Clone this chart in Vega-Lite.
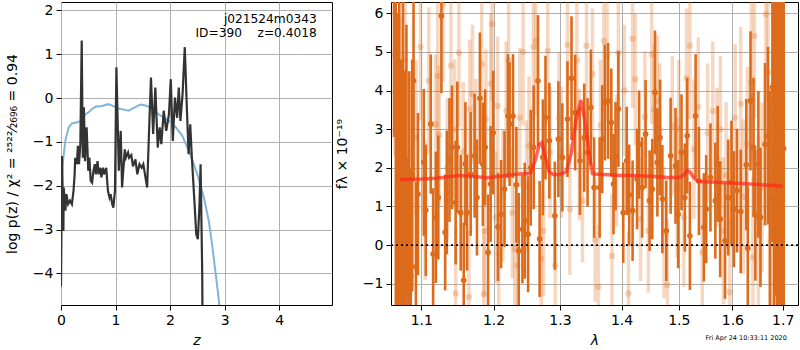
{
"$schema": "https://vega.github.io/schema/vega-lite/v6.json",
"background": "white",
"padding": {"left": 4, "top": 1, "right": 0, "bottom": 0},
"config": {
  "font": "DejaVu Sans",
  "view": {"stroke": "black", "strokeWidth": 1},
  "axis": {"labelFont": "DejaVu Sans", "titleFont": "DejaVu Sans", "labelFontSize": 14, "titleFontSize": 14, "titleFontWeight": "normal", "labelColor": "black", "titleColor": "black", "tickColor": "black", "tickSize": 5, "labelPadding": 3, "domain": false, "gridColor": "#b0b0b0", "gridWidth": 1, "gridOpacity": 1, "labelFlush": false, "labelOverlap": false}
},
"bounds": "flush",
"spacing": 59,
"datasets": {
  "pz": [
{"z":0.0,"v":-4.3},{"z":0.018,"v":-1.32},{"z":0.044,"v":-3.03},{"z":0.05,"v":-2.04},{"z":0.08,"v":-2.57},{"z":0.10,"v":-2.19},{"z":0.13,"v":-2.42},{"z":0.165,"v":-2.34},{"z":0.20,"v":-2.42},{"z":0.23,"v":-2.11},{"z":0.25,"v":-1.74},{"z":0.26,"v":-1.36},{"z":0.29,"v":-1.51},{"z":0.31,"v":-1.09},{"z":0.33,"v":-1.51},{"z":0.355,"v":-1.05},{"z":0.38,"v":1.31},{"z":0.40,"v":-1.36},{"z":0.42,"v":-0.21},{"z":0.44,"v":-1.44},{"z":0.47,"v":-0.67},{"z":0.50,"v":-1.66},{"z":0.52,"v":-1.36},{"z":0.545,"v":-1.89},{"z":0.57,"v":-1.93},{"z":0.595,"v":-1.66},{"z":0.62,"v":-1.51},{"z":0.64,"v":-1.74},{"z":0.67,"v":-1.44},{"z":0.69,"v":-1.74},{"z":0.72,"v":-1.59},{"z":0.74,"v":-1.81},{"z":0.77,"v":-1.59},{"z":0.79,"v":-1.74},{"z":0.83,"v":-1.59},{"z":0.86,"v":-2.11},{"z":0.89,"v":-2.27},{"z":0.91,"v":-2.19},{"z":0.94,"v":-2.42},{"z":0.96,"v":-2.5},{"z":0.99,"v":-2.11},{"z":1.016,"v":0.70},{"z":1.06,"v":-1.66},{"z":1.095,"v":-0.75},{"z":1.12,"v":-2.04},{"z":1.17,"v":-1.17},{"z":1.19,"v":-1.36},{"z":1.23,"v":-1.24},{"z":1.25,"v":-1.36},{"z":1.29,"v":-1.3},{"z":1.32,"v":-1.56},{"z":1.365,"v":-1.40},{"z":1.40,"v":-1.74},{"z":1.44,"v":-1.51},{"z":1.48,"v":-1.59},{"z":1.51,"v":-1.51},{"z":1.549,"v":-1.81},{"z":1.58,"v":-2.04},{"z":1.615,"v":-0.75},{"z":1.65,"v":0.47},{"z":1.69,"v":-0.82},{"z":1.73,"v":0.24},{"z":1.774,"v":-1.13},{"z":1.81,"v":-0.67},{"z":1.84,"v":-1.05},{"z":1.884,"v":-0.29},{"z":1.93,"v":-0.75},{"z":1.98,"v":-0.37},{"z":2.013,"v":0.43},{"z":2.05,"v":-0.98},{"z":2.09,"v":0.01},{"z":2.13,"v":-0.45},{"z":2.16,"v":0.24},{"z":2.19,"v":-0.52},{"z":2.23,"v":0.10},{"z":2.27,"v":1.16},{"z":2.31,"v":-0.29},{"z":2.34,"v":-1.28},{"z":2.37,"v":-0.6},{"z":2.40,"v":-1.36},{"z":2.45,"v":-2.42},{"z":2.48,"v":-3.1},{"z":2.51,"v":-3.22},{"z":2.54,"v":-2.42},{"z":2.56,"v":-1.51},{"z":2.59,"v":-4.0},{"z":2.60,"v":-6.0}
  ],
  "pzb": [
{"z":0.003,"v":-2.0},{"z":0.03,"v":-1.51},{"z":0.08,"v":-0.97},{"z":0.14,"v":-0.67},{"z":0.20,"v":-0.58},{"z":0.29,"v":-0.56},{"z":0.35,"v":-0.53},{"z":0.41,"v":-0.43},{"z":0.45,"v":-0.37},{"z":0.50,"v":-0.33},{"z":0.57,"v":-0.25},{"z":0.63,"v":-0.2},{"z":0.75,"v":-0.18},{"z":0.87,"v":-0.14},{"z":0.99,"v":-0.2},{"z":1.05,"v":-0.24},{"z":1.18,"v":-0.27},{"z":1.24,"v":-0.29},{"z":1.37,"v":-0.2},{"z":1.46,"v":-0.15},{"z":1.55,"v":-0.17},{"z":1.61,"v":-0.2},{"z":1.79,"v":-0.37},{"z":1.976,"v":-0.52},{"z":2.10,"v":-0.66},{"z":2.22,"v":-0.85},{"z":2.37,"v":-1.28},{"z":2.50,"v":-1.74},{"z":2.62,"v":-2.27},{"z":2.71,"v":-2.8},{"z":2.77,"v":-3.33},{"z":2.83,"v":-3.94},{"z":2.89,"v":-4.55},{"z":2.95,"v":-5.3}
  ],
  "dark": [
{"l":1.0645,"f":6.9,"e":4.1},{"l":1.0668,"f":3.0,"e":5.5},{"l":1.069,"f":1.5,"e":4.5},{"l":1.0712,"f":2.5,"e":5.0},{"l":1.0735,"f":0.3,"e":4.5},{"l":1.076,"f":2.0,"e":4.8},{"l":1.0787,"f":0.72,"e":3.8},{"l":1.0805,"f":2.2,"e":3.5},{"l":1.0818,"f":-0.84,"e":3.0},{"l":1.084,"f":1.0,"e":3.5},{"l":1.0862,"f":-0.79,"e":2.8},{"l":1.088,"f":1.8,"e":3.0},{"l":1.0898,"f":4.25,"e":2.6},
{"l":1.0929,"f":-0.56,"e":2.2},{"l":1.0956,"f":1.32,"e":2.1},{"l":1.1033,"f":2.14,"e":1.9},{"l":1.106,"f":0.9,"e":1.7},{"l":1.1126,"f":3.13,"e":1.8},{"l":1.1158,"f":-0.23,"e":1.7},{"l":1.1195,"f":0.72,"e":1.7},{"l":1.1228,"f":1.23,"e":1.6},{"l":1.127,"f":5.93,"e":2.0},{"l":1.1321,"f":0.33,"e":1.5},{"l":1.1344,"f":1.36,"e":1.6},{"l":1.138,"f":2.2,"e":1.6},{"l":1.1414,"f":2.53,"e":1.6},{"l":1.1465,"f":1.1,"e":1.6},{"l":1.1488,"f":2.53,"e":1.7},{"l":1.1535,"f":0.84,"e":1.5},{"l":1.1577,"f":-0.91,"e":1.5},{"l":1.16,"f":2.1,"e":1.6},{"l":1.1623,"f":0.84,"e":1.5},{"l":1.1674,"f":1.84,"e":1.6},{"l":1.173,"f":2.31,"e":1.6},{"l":1.1763,"f":1.23,"e":1.5},{"l":1.1805,"f":3.8,"e":1.7},{"l":1.1847,"f":2.09,"e":1.6},{"l":1.1879,"f":2.53,"e":1.5},{"l":1.1921,"f":-0.19,"e":1.5},{"l":1.1958,"f":1.58,"e":1.5},{"l":1.1995,"f":2.91,"e":1.6},{"l":1.2065,"f":0.47,"e":1.4},{"l":1.211,"f":0.8,"e":1.4},{"l":1.216,"f":1.45,"e":1.5},{"l":1.221,"f":3.34,"e":1.6},{"l":1.2235,"f":3.13,"e":1.6},{"l":1.2285,"f":3.34,"e":1.6},{"l":1.2335,"f":1.56,"e":1.5},{"l":1.237,"f":-0.15,"e":1.5},{"l":1.2425,"f":0.41,"e":1.4},{"l":1.246,"f":0.63,"e":1.5},{"l":1.251,"f":0.28,"e":1.5},{"l":1.255,"f":2.0,"e":1.5},{"l":1.2595,"f":2.53,"e":1.6},{"l":1.266,"f":4.25,"e":1.7},{"l":1.2685,"f":0.16,"e":1.5},{"l":1.2735,"f":2.27,"e":1.5},{"l":1.2775,"f":3.3,"e":1.6},{"l":1.2835,"f":2.7,"e":1.5},{"l":1.292,"f":0.76,"e":1.4},{"l":1.2975,"f":2.74,"e":1.5},{"l":1.3037,"f":2.27,"e":1.4},{"l":1.3118,"f":3.26,"e":1.5},{"l":1.3182,"f":4.32,"e":1.6},{"l":1.324,"f":3.43,"e":1.5},{"l":1.3316,"f":2.18,"e":1.4},{"l":1.3385,"f":2.78,"e":1.4},{"l":1.3439,"f":2.4,"e":1.4},{"l":1.3492,"f":3.56,"e":1.5},{"l":1.3545,"f":1.49,"e":1.3},{"l":1.3636,"f":1.49,"e":1.3},{"l":1.3679,"f":2.74,"e":1.4},{"l":1.3722,"f":3.69,"e":1.5},{"l":1.3775,"f":3.73,"e":1.5},{"l":1.3829,"f":3.17,"e":1.4},{"l":1.3866,"f":1.58,"e":1.3},{"l":1.39,"f":2.3,"e":1.4},{"l":1.3947,"f":3.52,"e":1.5},{"l":1.4029,"f":0.84,"e":1.3},{"l":1.4088,"f":2.18,"e":1.4},{"l":1.413,"f":1.3,"e":1.3},{"l":1.4188,"f":0.89,"e":1.3},{"l":1.4265,"f":1.71,"e":1.3},{"l":1.43,"f":2.6,"e":1.4},{"l":1.4353,"f":1.49,"e":1.3},{"l":1.4412,"f":2.87,"e":1.4},{"l":1.4482,"f":1.15,"e":1.3},{"l":1.4529,"f":1.45,"e":1.3},{"l":1.4576,"f":3.95,"e":1.6},{"l":1.4618,"f":2.14,"e":1.4},{"l":1.4665,"f":2.78,"e":1.5},{"l":1.4706,"f":1.19,"e":1.4},{"l":1.4776,"f":0.37,"e":1.3},{"l":1.4853,"f":2.31,"e":1.5},{"l":1.4941,"f":2.05,"e":1.5},{"l":1.4988,"f":0.8,"e":1.4},{"l":1.5049,"f":2.4,"e":1.5},{"l":1.511,"f":1.23,"e":1.4},{"l":1.5153,"f":2.83,"e":1.5},{"l":1.5202,"f":0.24,"e":1.4},{"l":1.5307,"f":3.34,"e":1.6},{"l":1.5368,"f":1.66,"e":1.4},{"l":1.546,"f":0.46,"e":1.4},{"l":1.5503,"f":0.93,"e":1.4},{"l":1.5583,"f":1.75,"e":1.4},{"l":1.5675,"f":1.15,"e":1.5},{"l":1.572,"f":2.1,"e":1.5},{"l":1.5767,"f":0.67,"e":1.5},{"l":1.5859,"f":0.11,"e":1.5},{"l":1.592,"f":1.23,"e":1.5},{"l":1.5982,"f":1.62,"e":1.6},{"l":1.603,"f":0.93,"e":1.5},{"l":1.609,"f":1.41,"e":1.6},{"l":1.6162,"f":0.87,"e":1.6},{"l":1.627,"f":2.08,"e":1.7},{"l":1.63,"f":-0.08,"e":1.6},{"l":1.6353,"f":3.73,"e":1.8},{"l":1.6413,"f":2.53,"e":1.8},{"l":1.6449,"f":0.78,"e":1.7},{"l":1.6509,"f":2.09,"e":1.9},{"l":1.6551,"f":0.72,"e":1.8},{"l":1.6641,"f":2.61,"e":2.1},{"l":1.6701,"f":2.83,"e":2.3},{"l":1.674,"f":1.2,"e":2.8},
{"l":1.679,"f":4.08,"e":4.0},{"l":1.682,"f":2.0,"e":6.0},{"l":1.685,"f":3.69,"e":5.0},{"l":1.688,"f":1.0,"e":6.0},{"l":1.691,"f":3.0,"e":6.0},{"l":1.6952,"f":2.31,"e":5.5},{"l":1.6985,"f":1.5,"e":6.0},{"l":1.702,"f":2.5,"e":5.0}
  ],
  "light": [
{"l":1.0655,"f":4.9,"e":2.6},{"l":1.0742,"f":3.9,"e":2.0},{"l":1.0787,"f":4.78,"e":2.0},{"l":1.085,"f":2.4,"e":2.1},{"l":1.093,"f":2.78,"e":2.0},{"l":1.099,"f":5.13,"e":1.9},{"l":1.105,"f":0.9,"e":1.8},{"l":1.11,"f":4.25,"e":1.9},{"l":1.119,"f":3.13,"e":1.8},{"l":1.122,"f":4.38,"e":1.9},{"l":1.124,"f":2.85,"e":1.8},{"l":1.129,"f":6.23,"e":2.0},{"l":1.135,"f":2.0,"e":1.8},{"l":1.14,"f":4.64,"e":1.9},{"l":1.145,"f":3.0,"e":1.8},{"l":1.1465,"f":-1.25,"e":1.7},{"l":1.151,"f":4.97,"e":1.9},{"l":1.157,"f":2.42,"e":1.8},{"l":1.165,"f":-1.34,"e":1.7},{"l":1.166,"f":3.52,"e":1.8},{"l":1.17,"f":3.9,"e":1.8},{"l":1.175,"f":2.5,"e":1.8},{"l":1.183,"f":4.68,"e":1.9},{"l":1.186,"f":-1.27,"e":1.7},{"l":1.187,"f":0.37,"e":1.7},{"l":1.189,"f":3.26,"e":1.8},{"l":1.196,"f":4.18,"e":1.8},{"l":1.198,"f":5.72,"e":2.0},{"l":1.2035,"f":0.72,"e":1.7},{"l":1.206,"f":3.6,"e":1.8},{"l":1.2075,"f":-0.22,"e":1.7},{"l":1.2135,"f":1.28,"e":1.7},{"l":1.2185,"f":3.47,"e":1.8},{"l":1.222,"f":4.78,"e":1.9},{"l":1.2275,"f":0.84,"e":1.7},{"l":1.231,"f":-0.1,"e":1.7},{"l":1.235,"f":-0.53,"e":1.7},{"l":1.2385,"f":3.3,"e":1.8},{"l":1.2435,"f":5.0,"e":1.9},{"l":1.2485,"f":1.53,"e":1.7},{"l":1.2525,"f":2.57,"e":1.8},{"l":1.259,"f":5.13,"e":1.9},{"l":1.2625,"f":5.28,"e":1.9},{"l":1.271,"f":-0.36,"e":1.7},{"l":1.2745,"f":0.37,"e":1.7},{"l":1.281,"f":5.03,"e":1.9},{"l":1.2845,"f":2.4,"e":1.7},{"l":1.2925,"f":-0.53,"e":1.7},{"l":1.2985,"f":3.3,"e":1.7},{"l":1.302,"f":2.4,"e":1.7},{"l":1.3118,"f":5.18,"e":1.8},{"l":1.3155,"f":0.93,"e":1.7},{"l":1.3267,"f":4.78,"e":1.8},{"l":1.3305,"f":2.34,"e":1.7},{"l":1.3358,"f":1.15,"e":1.6},{"l":1.3422,"f":5.16,"e":1.8},{"l":1.3519,"f":4.42,"e":1.7},{"l":1.3561,"f":0.13,"e":1.6},{"l":1.3615,"f":-1.08,"e":1.6},{"l":1.365,"f":3.1,"e":1.7},{"l":1.3706,"f":5.28,"e":1.8},{"l":1.3759,"f":4.9,"e":1.7},{"l":1.384,"f":-0.28,"e":1.6},{"l":1.392,"f":2.18,"e":1.7},{"l":1.3947,"f":4.98,"e":1.8},{"l":1.4047,"f":4.0,"e":1.7},{"l":1.4118,"f":-1.25,"e":1.6},{"l":1.4188,"f":5.34,"e":1.8},{"l":1.4235,"f":4.29,"e":1.7},{"l":1.4324,"f":0.67,"e":1.6},{"l":1.44,"f":3.32,"e":1.7},{"l":1.4459,"f":0.37,"e":1.6},{"l":1.4518,"f":4.94,"e":1.8},{"l":1.456,"f":3.5,"e":1.7},{"l":1.4618,"f":3.73,"e":1.7},{"l":1.466,"f":3.0,"e":1.7},{"l":1.4735,"f":0.33,"e":1.7},{"l":1.4794,"f":-1.03,"e":1.7},{"l":1.4882,"f":3.09,"e":1.8},{"l":1.4971,"f":1.49,"e":1.8},{"l":1.5,"f":3.0,"e":1.8},{"l":1.5092,"f":0.72,"e":1.8},{"l":1.514,"f":4.32,"e":1.8},{"l":1.5202,"f":5.16,"e":1.9},{"l":1.5276,"f":2.48,"e":1.8},{"l":1.5356,"f":3.58,"e":1.8},{"l":1.543,"f":-0.19,"e":1.8},{"l":1.553,"f":2.9,"e":1.8},{"l":1.5626,"f":3.47,"e":1.8},{"l":1.5706,"f":2.27,"e":1.8},{"l":1.577,"f":3.0,"e":1.9},{"l":1.5828,"f":0.37,"e":1.9},{"l":1.588,"f":1.8,"e":1.9},{"l":1.5951,"f":-1.22,"e":1.9},{"l":1.6054,"f":3.3,"e":1.9},{"l":1.6162,"f":3.65,"e":2.0},{"l":1.621,"f":1.25,"e":2.0},{"l":1.6293,"f":2.61,"e":2.0},{"l":1.6371,"f":4.21,"e":2.1},{"l":1.6401,"f":-0.32,"e":2.1},{"l":1.6431,"f":5.41,"e":2.1},{"l":1.6509,"f":0.63,"e":2.2},{"l":1.6581,"f":1.49,"e":2.2},{"l":1.6659,"f":5.97,"e":2.3},{"l":1.6701,"f":4.47,"e":2.4},{"l":1.6749,"f":0.11,"e":2.5},{"l":1.6832,"f":6.16,"e":3.0},{"l":1.691,"f":-0.84,"e":3.5}
  ],
  "model": [
{"l":1.072,"f":1.70},{"l":1.1,"f":1.71},{"l":1.12,"f":1.73},{"l":1.15,"f":1.80},{"l":1.17,"f":1.78},{"l":1.19,"f":1.74},{"l":1.21,"f":1.78},{"l":1.23,"f":1.83},{"l":1.25,"f":1.85},{"l":1.255,"f":1.88},{"l":1.262,"f":2.2},{"l":1.268,"f":2.6},{"l":1.272,"f":2.65},{"l":1.277,"f":2.3},{"l":1.283,"f":1.9},{"l":1.29,"f":1.82},{"l":1.30,"f":1.83},{"l":1.31,"f":1.9},{"l":1.318,"f":2.4},{"l":1.325,"f":3.2},{"l":1.333,"f":3.75},{"l":1.34,"f":3.2},{"l":1.347,"f":2.3},{"l":1.352,"f":1.85},{"l":1.36,"f":1.83},{"l":1.38,"f":1.82},{"l":1.40,"f":1.80},{"l":1.42,"f":1.80},{"l":1.45,"f":1.78},{"l":1.48,"f":1.75},{"l":1.50,"f":1.75},{"l":1.508,"f":1.8},{"l":1.515,"f":1.93},{"l":1.52,"f":1.9},{"l":1.527,"f":1.75},{"l":1.535,"f":1.65},{"l":1.55,"f":1.64},{"l":1.58,"f":1.62},{"l":1.61,"f":1.6},{"l":1.65,"f":1.57},{"l":1.68,"f":1.54},{"l":1.70,"f":1.52}
  ]
},
"hconcat": [
  {
    "width": 271,
    "height": 303,
    "layer": [
      {
        "data": {"name": "pzb"},
        "mark": {"type": "line", "color": "#82b4da", "strokeWidth": 2, "clip": true},
        "encoding": {
          "x": {"field": "z", "type": "quantitative", "scale": {"domain": [0, 4.97], "nice": false, "zero": false},
                "axis": {"values": [0, 1, 2, 3, 4], "format": "d", "title": "z", "titleFontStyle": "italic", "titlePadding": 6}},
          "y": {"field": "v", "type": "quantitative", "scale": {"domain": [-4.72, 2.19], "nice": false, "zero": false},
                "axis": {"values": [-4, -3, -2, -1, 0, 1, 2], "format": "d", "title": "log p(z) / χ² = ²⁵²²⁄₂₆₉₆ = 0.94", "titlePadding": 13}}
        }
      },
      {
        "data": {"name": "pz"},
        "mark": {"type": "line", "color": "#333333", "strokeWidth": 2.2, "clip": true},
        "encoding": {
          "x": {"field": "z", "type": "quantitative", "title": "z"},
          "y": {"field": "v", "type": "quantitative", "title": "log p(z) / χ² = ²⁵²²⁄₂₆₉₆ = 0.94"}
        }
      },
      {
        "data": {"values": [{}]},
        "mark": {"type": "text", "align": "right", "baseline": "top", "fontSize": 12.2, "lineHeight": 14, "color": "black", "font": "DejaVu Sans",
                 "text": ["j021524m0343", "ID=390\u00a0\u00a0\u00a0\u00a0z=0.4018"]},
        "encoding": {"x": {"datum": 4.69}, "y": {"datum": 1.94}}
      }
    ]
  },
  {
    "width": 407,
    "height": 303,
    "title": {"text": "Fri Apr 24 10:33:11 2020", "orient": "bottom", "anchor": "end", "fontSize": 6.5, "fontWeight": "normal", "font": "DejaVu Sans", "color": "black", "offset": -12, "dx": -12},
    "layer": [
      {
        "data": {"name": "light"},
        "mark": {"type": "errorbar", "color": "#e07020", "opacity": 0.28, "thickness": 3.5, "clip": true},
        "encoding": {
          "x": {"field": "l", "type": "quantitative", "scale": {"type": "log", "domain": [1.0606, 1.7316], "nice": false},
                "axis": {"values": [1.1, 1.2, 1.3, 1.4, 1.5, 1.6, 1.7], "format": ".1f", "title": "λ", "titleFontStyle": "italic", "titlePadding": 6}},
          "y": {"field": "f", "type": "quantitative", "scale": {"domain": [-1.55, 6.29], "nice": false, "zero": false},
                "axis": {"values": [-1, 0, 1, 2, 3, 4, 5, 6], "format": "d", "title": "fλ × 10⁻¹⁹", "titlePadding": 13}},
          "yError": {"field": "e"}
        }
      },
      {
        "data": {"name": "light"},
        "mark": {"type": "point", "filled": true, "shape": "circle", "size": 40, "color": "#e07020", "opacity": 0.28, "clip": true},
        "encoding": {
          "x": {"field": "l", "type": "quantitative", "title": "λ"},
          "y": {"field": "f", "type": "quantitative", "title": "fλ × 10⁻¹⁹"}
        }
      },
      {
        "data": {"name": "dark"},
        "mark": {"type": "errorbar", "color": "#dc6b1c", "opacity": 1, "thickness": 2.6, "clip": true},
        "encoding": {
          "x": {"field": "l", "type": "quantitative", "title": "λ"},
          "y": {"field": "f", "type": "quantitative", "title": "fλ × 10⁻¹⁹"},
          "yError": {"field": "e"}
        }
      },
      {
        "data": {"name": "dark"},
        "mark": {"type": "point", "filled": true, "shape": "circle", "size": 32, "color": "#dc6b1c", "opacity": 1, "clip": true},
        "encoding": {
          "x": {"field": "l", "type": "quantitative", "title": "λ"},
          "y": {"field": "f", "type": "quantitative", "title": "fλ × 10⁻¹⁹"}
        }
      },
      {
        "data": {"name": "model"},
        "mark": {"type": "line", "color": "#ff2a1a", "strokeWidth": 3.5, "opacity": 0.72, "clip": true},
        "encoding": {
          "x": {"field": "l", "type": "quantitative", "title": "λ"},
          "y": {"field": "f", "type": "quantitative", "title": "fλ × 10⁻¹⁹"}
        }
      },
      {
        "data": {"values": [{}]},
        "mark": {"type": "rule", "color": "black", "strokeWidth": 1.6, "strokeDash": [2, 3]},
        "encoding": {"y": {"datum": 0}}
      }
    ]
  }
]
}
